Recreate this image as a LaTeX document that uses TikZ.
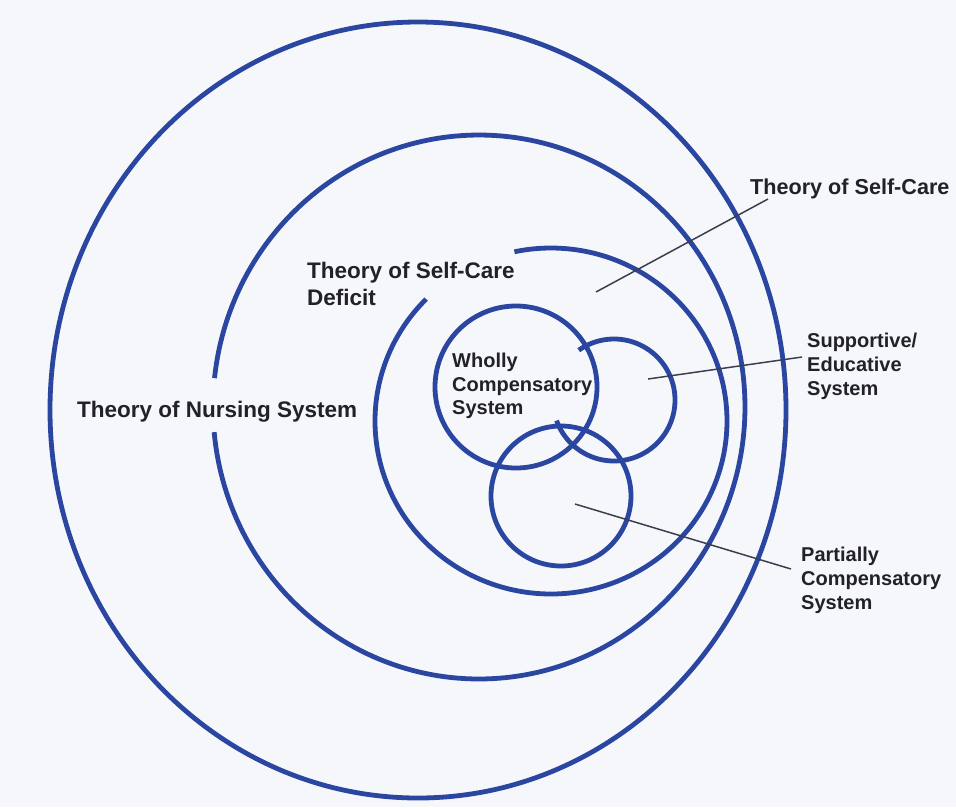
\documentclass[tikz,border=0pt]{standalone}
\usepackage{fontspec}
\setmainfont{Liberation Sans}
\definecolor{ringblue}{RGB}{42,70,160}
\definecolor{labelink}{RGB}{34,34,38}
\definecolor{leaderink}{RGB}{58,62,80}
\definecolor{paper}{RGB}{246,247,250}
\begin{document}
\begin{tikzpicture}[x=1pt,y=-1pt,
  ring/.style={draw=ringblue,line width=4.8pt},
  leader/.style={draw=leaderink,line width=1.5pt},
  theorylabel/.style={anchor=base west,inner sep=0pt,text=labelink,font=\bfseries\fontsize{22.5}{27}\selectfont},
  syslabel/.style={anchor=base west,inner sep=0pt,text=labelink,font=\bfseries\fontsize{20}{24}\selectfont}]
\fill[paper] (0,0) rectangle (956,807);
\useasboundingbox (0,0) rectangle (956,807);
% outer closed ellipse
\draw[ring] (418,410) ellipse [x radius=368, y radius=388];
% second spiral ring (gap on the left)
\draw[ring] plot[domain=186.1:534.7,samples=240] ({479+266*cos(\x)},{407+272*sin(\x)});
% third spiral ring (gap at upper left)
\draw[ring] plot[domain=258:584.8,samples=240] ({551+176*cos(\x)},{421+173*sin(\x)});
% wholly compensatory circle
\draw[ring] (516,387) circle [radius=81];
% supportive/educative open circle
\draw[ring] plot[domain=234.7:520.3,samples=160] ({614+61*cos(\x)},{400+61*sin(\x)});
% partially compensatory circle
\draw[ring] (561,496) circle [radius=70];
% labels
\node[theorylabel,font=\bfseries\fontsize{21.6}{26}\selectfont] (tsc) at (750,194) {Theory of Self-Care};
\node[theorylabel] (tscdA) at (307,278) {Theory of Self-Care};
\node[theorylabel] (tscdB) at (307,305) {Deficit};
\node[theorylabel] (tns) at (77,417) {Theory of Nursing System};
\node[syslabel] (wcA) at (452,367) {Wholly};
\node[syslabel] (wcB) at (452,391) {Compensatory};
\node[syslabel] (wcC) at (452,414) {System};
\node[syslabel] (seA) at (807,347) {Supportive/};
\node[syslabel] (seB) at (807,371) {Educative};
\node[syslabel] (seC) at (807,395) {System};
\node[syslabel] (pcA) at (801,561) {Partially};
\node[syslabel] (pcB) at (801,585) {Compensatory};
\node[syslabel] (pcC) at (801,609) {System};
% leader lines
\coordinate (scTip) at (596,292);
\coordinate (scEnd) at (768,199);
\coordinate (seTip) at (648,379);
\coordinate (seEnd) at (802,357);
\coordinate (pcTip) at (575,504);
\coordinate (pcEnd) at (791,569);
\draw[leader] (scTip) -- (scEnd);
\draw[leader] (seTip) -- (seEnd);
\draw[leader] (pcTip) -- (pcEnd);
\end{tikzpicture}
\end{document}
